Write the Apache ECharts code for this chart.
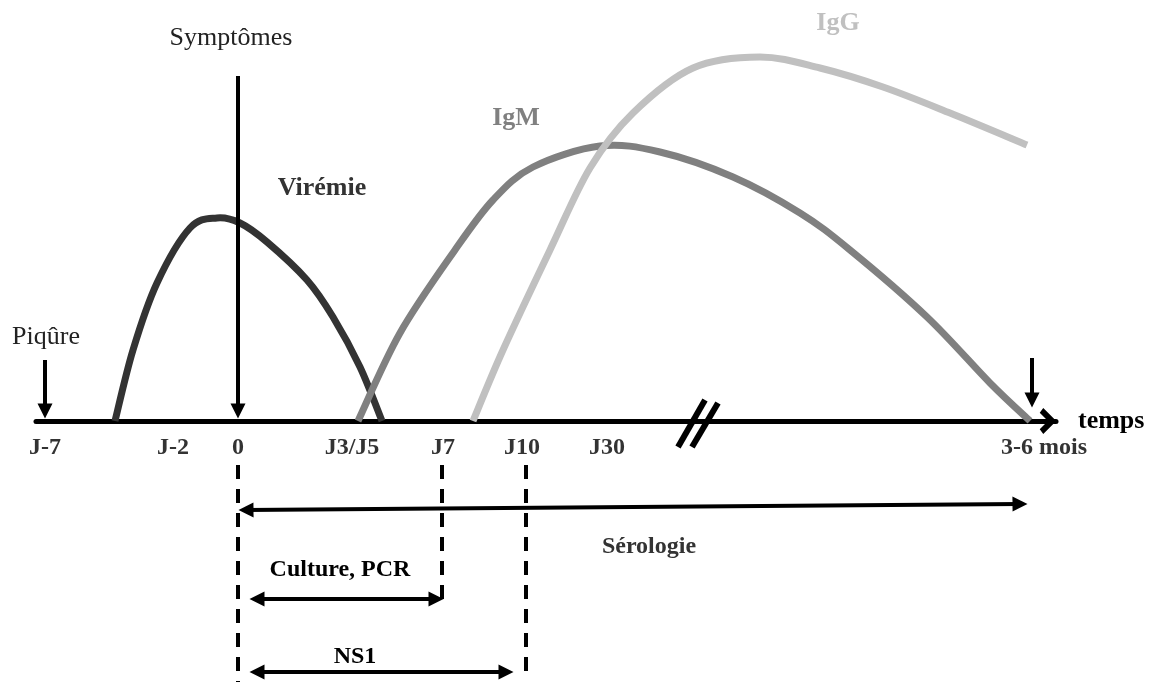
<!DOCTYPE html>
<html>
<head>
<meta charset="utf-8">
<script src="https://cdn.jsdelivr.net/npm/echarts@6/dist/echarts.min.js"></script>
<style>
  html, body { margin: 0; padding: 0; background: #fff; }
  #chart { width: 1155px; height: 682px; }
</style>
</head>
<body>
<div id="chart"></div>
<script>
// positions along the time line (diagram units) and levels above the axis
const tickPos = [45, 173, 238, 352, 443, 522, 607, 1044]
const tickLabels = ['J-7', 'J-2', '0', 'J3/J5', 'J7', 'J10', 'J30', '3-6 mois']

const viremia = [[115, 0], [133, 71], [157, 138], [190, 193], [217, 203], [240, 198],
  [267, 179], [307, 141], [333, 104], [360, 54], [382, 0]]
const igm = [[358, 0], [400, 88], [455, 171], [493, 221], [533, 254], [600, 275], [660, 269],
  [733, 244], [800, 208], [850, 171], [927, 104], [990, 38], [1030, 0]]
const igg = [[473, 0], [503, 71], [550, 171], [590, 253], [633, 308], [693, 353], [760, 364],
  [820, 353], [883, 334], [950, 308], [1027, 276]]

// event arrows pointing down onto the time line
const eventArrows = [
  [[45, 61], [45, 10]],
  [[238, 345], [238, 10]],
  [[1032, 63], [1032, 21]]
]
// diagnostic windows (double arrows)
const serologyRange = [[246, -89], [1020, -83]]
const cultureRange = [[257, -178], [436, -178]]
const ns1Range = [[257, -251], [506, -251]]
// dashed guides
const guides = [
  [[238, -44], [238, -261]],
  [[442, -44], [442, -179]],
  [[526, -44], [526, -251]]
]
// axis break "//"
const breakMark = [
  [[705, 21], [678, -26]],
  [[718, 18], [692, -26]]
]

const notes = [
  [231, 383, 'Symptômes'],
  [46, 84, 'Piqûre'],
  [322, 233, 'Virémie'],
  [516, 303, 'IgM'],
  [838, 398, 'IgG'],
  [649, -126, 'Sérologie'],
  [340, -149, 'Culture, PCR'],
  [355, -236, 'NS1']
]

const FONT = '"Liberation Serif", "Times New Roman", serif'
const noteStyles = {
  'Symptômes': { fontWeight: 'normal', color: '#222', fontSize: 26 },
  'Piqûre': { fontWeight: 'normal', color: '#222', fontSize: 26 },
  'Virémie': { fontWeight: 'bold', color: '#333', fontSize: 26 },
  'IgM': { fontWeight: 'bold', color: '#808080', fontSize: 26 },
  'IgG': { fontWeight: 'bold', color: '#c0c0c0', fontSize: 26 },
  'Sérologie': { fontWeight: 'bold', color: '#333', fontSize: 24 },
  'Culture, PCR': { fontWeight: 'bold', color: '#000', fontSize: 24 },
  'NS1': { fontWeight: 'bold', color: '#000', fontSize: 24 }
}

const chevron = 'path://M0,11 L11,0 L22,11 L18,14 L11,7 L4,14 Z'

// smooth curve through the points (Catmull-Rom), positioned with the chart's axes
function curve(name, pts, color) {
  return {
    name,
    type: 'custom',
    coordinateSystem: 'cartesian2d',
    data: [pts[0]],
    silent: true,
    z: 3,
    renderItem(params, api) {
      const p = pts.map(q => api.coord(q))
      let d = `M${p[0][0]},${p[0][1]}`
      for (let i = 0; i < p.length - 1; i++) {
        const p0 = p[i - 1] || p[i]
        const p1 = p[i]
        const p2 = p[i + 1]
        const p3 = p[i + 2] || p[i + 1]
        const c1 = [p1[0] + (p2[0] - p0[0]) / 6, p1[1] + (p2[1] - p0[1]) / 6]
        const c2 = [p2[0] - (p3[0] - p1[0]) / 6, p2[1] - (p3[1] - p1[1]) / 6]
        d += ` C${c1[0]},${c1[1]} ${c2[0]},${c2[1]} ${p2[0]},${p2[1]}`
      }
      return {
        type: 'path',
        shape: { pathData: d },
        style: { stroke: color, lineWidth: 7, fill: 'none', lineCap: 'butt', lineJoin: 'round' }
      }
    }
  }
}

function arrows(data, symbol, width, dash) {
  return {
    type: 'lines',
    coordinateSystem: 'cartesian2d',
    data: data.map(coords => ({ coords })),
    symbol,
    symbolSize: 15,
    lineStyle: { color: '#000', width, type: dash || 'solid', opacity: 1, curveness: 0 },
    silent: true,
    z: 4
  }
}

function textSeries(data, label) {
  return {
    type: 'scatter',
    data,
    symbolSize: 0,
    itemStyle: { color: 'rgba(0,0,0,0)', opacity: 1 },
    silent: true,
    label: Object.assign({ show: true, fontFamily: FONT, formatter: p => p.name }, label),
    labelLayout: { hideOverlap: false },
    z: 5
  }
}

const chart = echarts.init(document.getElementById('chart'))
chart.setOption({
  animation: false,
  backgroundColor: '#fff',
  textStyle: { fontFamily: FONT },
  grid: { left: 36, right: 99, top: 0, bottom: 0, containLabel: false, outerBoundsMode: 'none' },
  xAxis: {
    type: 'value',
    min: 36,
    max: 1056,
    splitLine: { show: false },
    axisTick: { show: false },
    axisLabel: { show: false },
    axisLine: {
      onZero: true,
      lineStyle: { color: '#000', width: 5 },
      symbol: ['none', chevron],
      symbolSize: [26, 24],
      symbolOffset: [0, -8]
    },
    name: 'temps',
    nameLocation: 'end',
    nameGap: 22,
    nameTextStyle: {
      color: '#000', fontWeight: 'bold', fontSize: 26, fontFamily: FONT,
      align: 'left', verticalAlign: 'middle', padding: [10, 0, 0, 0]
    }
  },
  yAxis: { type: 'value', min: -261, max: 421, show: false },
  series: [
    curve('Virémie', viremia, '#333333'),
    curve('IgM', igm, '#808080'),
    curve('IgG', igg, '#c0c0c0'),
    arrows(eventArrows, ['none', 'triangle'], 4),
    arrows([serologyRange, cultureRange, ns1Range], ['triangle', 'triangle'], 4),
    arrows(guides, ['none', 'none'], 4, [14, 10]),
    arrows(breakMark, ['none', 'none'], 6),
    // time line tick labels
    textSeries(tickPos.map((p, i) => ({ value: [p, 0], name: tickLabels[i] })), {
      position: 'bottom',
      distance: 15,
      color: '#333',
      fontWeight: 'bold',
      fontSize: 24
    }),
    // annotations
    textSeries(notes.map(n => ({
      value: [n[0], n[1]],
      name: n[2],
      label: noteStyles[n[2]]
    })), { position: 'inside' })
  ]
})
</script>
</body>
</html>
